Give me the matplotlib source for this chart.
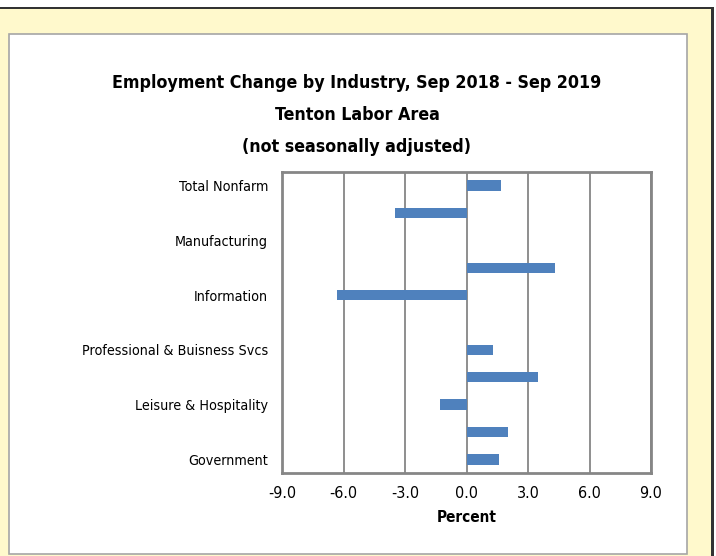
import matplotlib
matplotlib.use("Agg")
import matplotlib.pyplot as plt
from matplotlib.patches import Rectangle

categories = [
    "Total Nonfarm",
    "Mining, Logging & Construction",
    "Manufacturing",
    "Trade, Transportation & Utilities",
    "Information",
    "Financial Activities",
    "Professional & Buisness Svcs",
    "Educational & Health Svcs",
    "Leisure & Hospitality",
    "Other Services",
    "Government",
]
values = [1.7, -3.5, 0.0, 4.3, -6.3, 0.0, 1.3, 3.5, -1.3, 2.0, 1.6]
xticks = [-9.0, -6.0, -3.0, 0.0, 3.0, 6.0, 9.0]
title_lines = ["Employment Change by Industry, Sep 2018 - Sep 2019",
               "Tenton Labor Area",
               "(not seasonally adjusted)"]

plt.rcParams["font.family"] = ["DejaVu Sans"]
plt.rcParams["font.stretch"] = "condensed"

W, H = 716, 556
fig = plt.figure(figsize=(W / 100, H / 100), dpi=100)
fig.patch.set_facecolor("white")

def px(x0, y0, x1, y1):
    return (x0 / W, 1 - y1 / H, (x1 - x0) / W, (y1 - y0) / H)

x, y, w, h = px(0, 8, 712, 556)
fig.patches.append(Rectangle((x, y), w, h, transform=fig.transFigure,
                             facecolor="#FFF9CC", edgecolor="none", zorder=0))
x, y, w, h = px(0, 6.5, 714, 9)
fig.patches.append(Rectangle((x, y), w, h, transform=fig.transFigure,
                             facecolor="#333333", edgecolor="none", zorder=1))
x, y, w, h = px(711, 6.5, 714, 556)
fig.patches.append(Rectangle((x, y), w, h, transform=fig.transFigure,
                             facecolor="#333333", edgecolor="none", zorder=1))
x, y, w, h = px(9, 34, 687, 554)
fig.patches.append(Rectangle((x, y), w, h, transform=fig.transFigure,
                             facecolor="white", edgecolor="#A6A6A6", linewidth=1.2, zorder=2))

ax = fig.add_axes([282 / W, 1 - 473 / H, (651 - 282) / W, (473 - 172) / H])
ax.set_zorder(3)
ypos = list(range(len(categories)))
ax.barh(ypos, values, height=0.38, color="#4F81BD", edgecolor="none", zorder=3)
ax.set_xlim(-9, 9)
ax.set_ylim(len(categories) - 0.5, -0.5)
ax.set_xticks(xticks)
ax.set_xticklabels([f"{t:.1f}" for t in xticks], fontsize=11.5)
ax.set_yticks(ypos[::2])
ax.set_yticklabels(categories[::2], fontsize=10.3)
ax.tick_params(length=0)
ax.tick_params(axis="y", pad=10)
ax.tick_params(axis="x", pad=9)
ax.grid(axis="x", color="#868686", linewidth=1.3, zorder=1)
ax.set_axisbelow(True)
for s in ax.spines.values():
    s.set_color("#868686")
    s.set_linewidth(2)
ax.set_xlabel("Percent", fontsize=11, fontweight="bold", labelpad=7)

for line, yy in zip(title_lines, [83, 115, 147]):
    fig.text(357 / W, 1 - yy / H, line, ha="center", va="center",
             fontsize=12.8, fontweight="bold", zorder=5)

fig.savefig("out.png", dpi=100)
